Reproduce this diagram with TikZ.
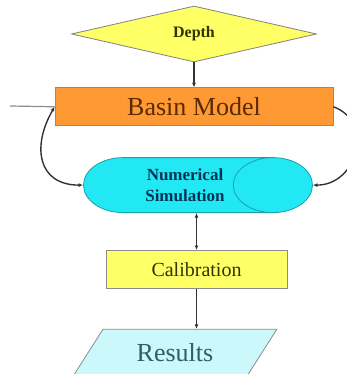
\documentclass[tikz,border=0pt]{standalone}
\usepackage{fontspec}
\setmainfont{Liberation Serif}
\usetikzlibrary{positioning}
\usetikzlibrary{arrows.meta}
\usetikzlibrary{shapes.geometric}

\definecolor{depthyellow}{HTML}{FFFF66}
\definecolor{basinorange}{HTML}{FF9933}
\definecolor{simcyan}{HTML}{22E8F4}
\definecolor{resultcyan}{HTML}{CCF7FB}
\definecolor{olivetext}{HTML}{333300}
\definecolor{browntext}{HTML}{5A2A00}
\definecolor{navytext}{HTML}{003355}
\definecolor{tealtext}{HTML}{2F5F66}

\begin{document}
\begin{tikzpicture}[
    x=1pt, y=1pt,
    block/.style={rectangle, draw=black!45, line width=0.8pt, inner sep=0pt},
    link/.style={draw=black!80, line width=1.4pt, -{Latex[length=4.5pt,width=4pt]}},
    twolink/.style={link, {Latex[length=4.5pt,width=4pt]}-{Latex[length=4.5pt,width=4pt]}},
]
    \useasboundingbox (0,0) rectangle (347,374);

    \node[diamond, draw=black!50, line width=0.8pt, fill=depthyellow, aspect=4.4,
          minimum width=245pt, minimum height=56pt, inner sep=0pt,
          text=olivetext, font=\fontsize{16}{18}\selectfont\bfseries] (D) at (194,340) {Depth};

    \node[block, fill=basinorange, minimum width=278pt, minimum height=38pt,
          text=browntext, font=\fontsize{26}{30}\selectfont] (BM) [below=25pt of D] {Basin Model};

    \node[cylinder, draw=black!30!simcyan, line width=0.8pt, cylinder uses custom fill,
          cylinder body fill=simcyan, cylinder end fill=simcyan, aspect=2.4,
          minimum width=55pt, minimum height=229pt, inner sep=0pt, align=center,
          text=navytext, font=\fontsize{17}{21}\selectfont\bfseries]
          (NS) [below=31pt of BM, xshift=-16pt] {\hspace*{14pt}Numerical\\\hspace*{14pt}Simulation};

    \node[block, fill=depthyellow, minimum width=181pt, minimum height=38pt,
          text=olivetext, font=\fontsize{20}{24}\selectfont] (CAL) [below=37pt of BM.south |- NS.south, xshift=2.5pt] {Calibration};

    \node[trapezium, trapezium left angle=49, trapezium right angle=131, trapezium stretches=true,
          draw=black!45, line width=0.8pt, fill=resultcyan, minimum width=204pt, minimum height=47pt,
          inner sep=0pt, text=tealtext, font=\fontsize{26}{30}\selectfont]
          (RES) [below=40pt of CAL, xshift=-21.5pt] {\raisebox{-6pt}{Results}};

    \coordinate (IN) at (10,268);

    \draw[link] (D.south) -- (BM.north);
    \draw[twolink] (CAL.north |- NS.south) -- (CAL.north);
    \draw[link] (CAL.south) -- (CAL.south |- RES.north);

    \draw[draw=black!45, line width=1.2pt] (IN) -- (BM.west);
    \draw[twolink] (BM.west) to[out=240, in=180, looseness=1.4] (NS.west);
    \draw[link] (BM.east) to[out=-20, in=0, looseness=1.4] (NS.east);
\end{tikzpicture}
\end{document}
